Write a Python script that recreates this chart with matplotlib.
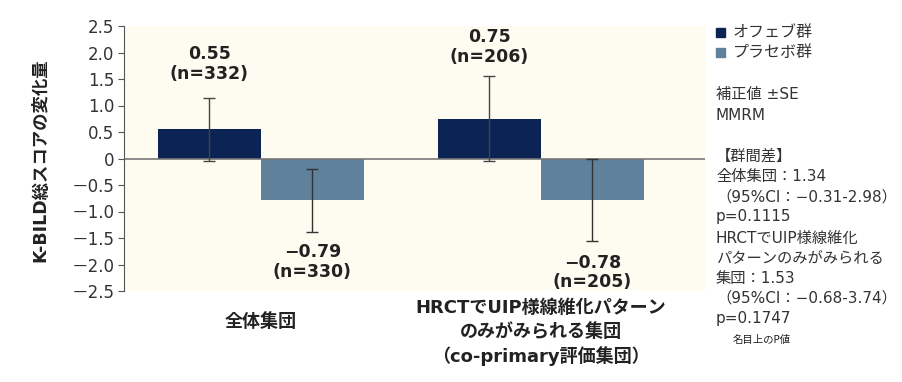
import matplotlib
matplotlib.use("Agg")
import matplotlib.pyplot as plt
import numpy as np

plt.rcParams['font.family'] = ['DejaVu Sans', 'Noto Sans CJK JP']

group_label_1 = ["全体集団"]
group_label_2 = ["HRCTでUIP様線維化パターン", "のみがみられる集団", "（co-primary評価集団）"]
groups = ["全体集団", "HRCTでUIP様線維化パターンのみがみられる集団"]
series_names = ["オフェブ群", "プラセボ群"]
ofev_vals = [0.55, 0.75]
placebo_vals = [-0.79, -0.78]
ofev_se = [0.60, 0.80]
placebo_se = [0.59, 0.78]
ofev_n = [332, 206]
placebo_n = [330, 205]
yticks = [2.5, 2.0, 1.5, 1.0, 0.5, 0, -0.5, -1.0, -1.5, -2.0, -2.5]
ytick_labels = ["2.5", "2.0", "1.5", "1.0", "0.5", "0", "－0.5", "－1.0", "－1.5", "－2.0", "－2.5"]

dark = "#0b2454"
light = "#5f819c"
bg = "#fefcf0"

fig = plt.figure(figsize=(9.03, 3.82), dpi=100)
ax = fig.add_axes([124/903, 1-291/382, (705-124)/903, (291-26)/382])
ax.set_facecolor(bg)

x = np.arange(len(groups))
w = 0.368
ax.bar(x - w/2, ofev_vals, w, color=dark, zorder=2)
ax.bar(x + w/2, placebo_vals, w, color=light, zorder=2)
ax.errorbar(x - w/2, ofev_vals, yerr=ofev_se, fmt='none', ecolor='#444444',
            elinewidth=1, capsize=4, capthick=1, zorder=3)
ax.errorbar(x + w/2, placebo_vals, yerr=placebo_se, fmt='none', ecolor='#333333',
            elinewidth=1, capsize=4, capthick=1, zorder=3)
ax.axhline(0, color='#777777', lw=1.2, zorder=2.5)

ax.set_xlim(-0.489, 1.586)
ax.set_ylim(-2.5, 2.5)
ax.set_yticks(yticks)
ax.set_yticklabels(ytick_labels, fontsize=12, color='#333333')
ax.tick_params(axis='y', length=4, color='#555555', pad=3)
ax.tick_params(axis='x', length=0)
ax.set_xticks([])
for s in ['top', 'right', 'bottom']:
    ax.spines[s].set_visible(False)
ax.spines['left'].set_color('#555555')

# value labels
ofev_label_y = [1.78, 2.1]
plac_label_y = [-1.95, -2.15]
for i in range(len(groups)):
    ax.text(x[i] - w/2, ofev_label_y[i], f"{ofev_vals[i]:.2f}\n(n={ofev_n[i]})",
            ha='center', va='center', fontsize=12.5, fontweight='bold', linespacing=1.1,
            color='#222222')
    ax.text(x[i] + w/2, plac_label_y[i], f"−{abs(placebo_vals[i]):.2f}\n(n={placebo_n[i]})",
            ha='center', va='center', fontsize=12.5, fontweight='bold', linespacing=1.1,
            color='#222222')

# x category labels
fig.text(261/903, 1-322/382, group_label_1[0], ha='center', va='center', fontsize=13,
         fontweight='bold', color='#222222')
for t, yy in zip(group_label_2, [308, 332, 356]):
    fig.text(541/903, 1-yy/382, t, ha='center', va='center', fontsize=13,
             fontweight='bold', color='#222222')

# y label
fig.text(40/903, 1-160/382, "K-BILD総スコアの変化量", rotation=90, ha='center',
         va='center', fontsize=12.5, fontweight='bold', color='#222222')

# legend
leg_colors = [dark, light]
leg_y = [32, 52]
for c, name, yy in zip(leg_colors, series_names, leg_y):
    fig.patches.append(matplotlib.patches.Rectangle((716/903, 1-(yy+5)/382), 9/903, 9/382,
                       transform=fig.transFigure, color=c))
    fig.text(733/903, 1-yy/382, name, ha='left', va='center', fontsize=11.5, color='#333333')

right_lines = [
    ("補正値 ±SE", 95),
    ("MMRM", 115),
    ("【群間差】", 156),
    ("全体集団：1.34", 177),
    ("（95%CI：−0.31-2.98）", 197),
    ("p=0.1115", 217),
    ("HRCTでUIP様線維化", 238),
    ("パターンのみがみられる", 258),
    ("集団：1.53", 278),
    ("（95%CI：−0.68-3.74）", 298),
    ("p=0.1747", 319),
]
for t, yy in right_lines:
    fig.text(716/903, 1-yy/382, t, ha='left', va='center', fontsize=11, color='#333333')
fig.text(733/903, 1-340/382, "名目上のP値", ha='left', va='center', fontsize=7.5, color='#222222')

fig.savefig("out.png", dpi=100, facecolor='white')
